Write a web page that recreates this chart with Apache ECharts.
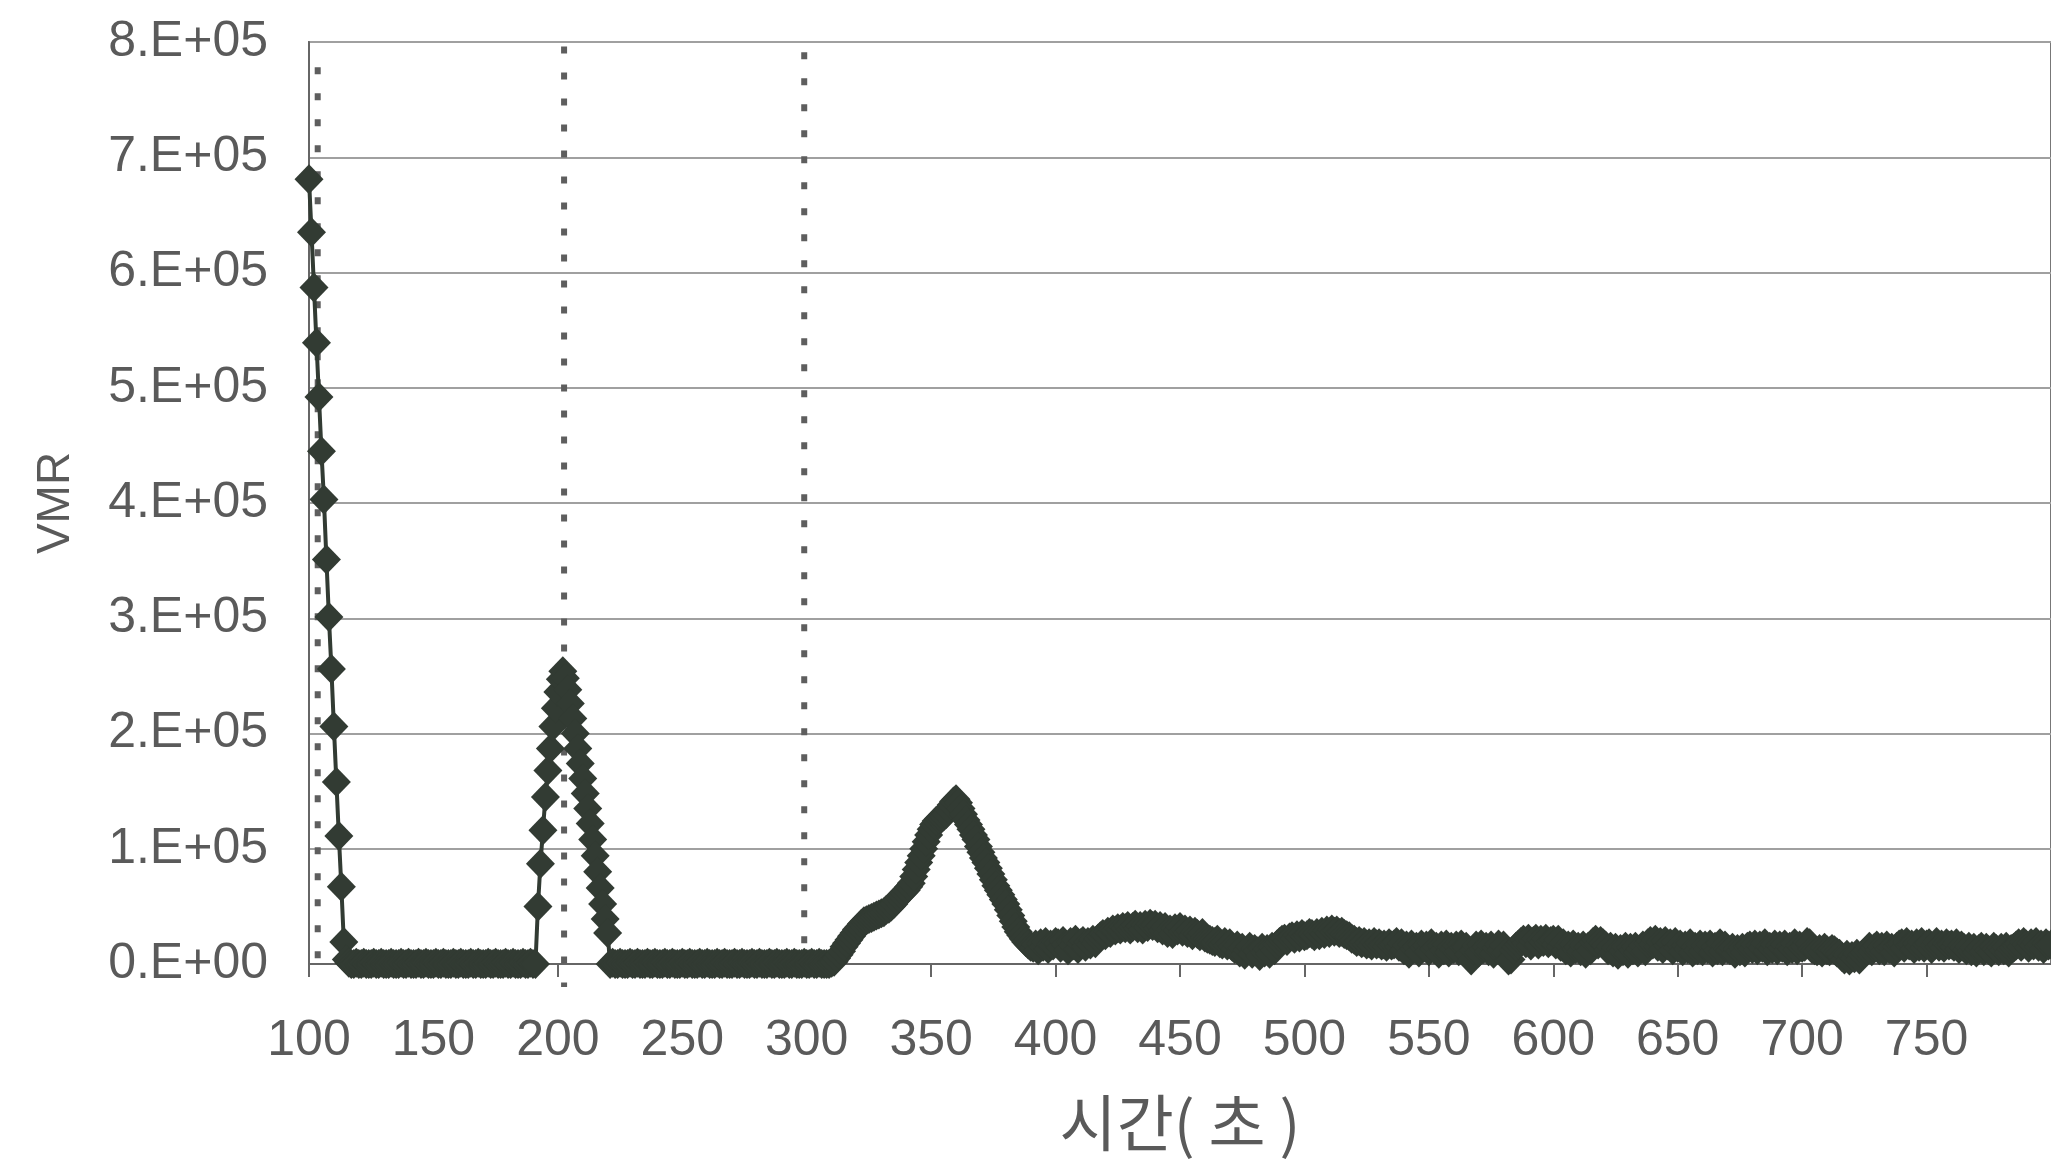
<!DOCTYPE html>
<html>
<head>
<meta charset="utf-8">
<script src="https://cdn.jsdelivr.net/npm/echarts@6.0.0/dist/echarts.min.js"></script>
<style>
html,body{margin:0;padding:0;background:#fff;}
#chart{width:2051px;height:1162px;}
</style>
</head>
<body>
<div id="chart"></div>
<script>
// VMR values in thousands, one sample per second; each segment starts at the given time (s)
const decay1Start = 100;
const decay1 = [681,635,587,539,492,445,403,351,301,256, 206,158,111,67,19];
const flat1Start = 115;
const flat1 = [
  4,1,0,0,1,0,0,1,0,0,
  0,1,0,0,1,0,0,0,1,0,
  0,0,1,0,0,1,0,0,0,1,
  0,0,1,0,0,0,1,0,0,1,
  0,0,0,1,0,0,1,0,0,0,
  1,0,0,1,0,0,0,1,0,0,
  1,0,0,0,1,0,0,1,0,0,
  0,1,0,0,1,0
];
const peak2Start = 191;
const peak2 = [
  0,50,87,116,145,168,187,206,222,236,
  247,254,248,238,226,213,200,187,174,161,
  148,135,122,108,94,80,66,52,39,27
];
const flat2Start = 221;
const flat2 = [
  0,1,0,0,1,0,0,0,1,0,
  0,1,0,0,0,1,0,0,1,0,
  0,0,1,0,0,1,0,0,0,1,
  0,0,1,0,0,0,1,0,0,1,
  0,0,0,1,0,0,1,0,0,0,
  1,0,0,1,0,0,0,1,0,0,
  1,0,0,0,1,0,0,1,0,0,
  0,1,0,0,1,0,0,0,1,0,
  0,1,0,0,1,0,0,0,0,1
];
const peak3Start = 311;
const peak3 = [
  2,5,8,11,15,18,21,24,27,30,
  32,35,37,38,39,40,41,42,43,44,
  45,47,48,50,52,55,58,60,62,64,
  67,70,76,82,88,94,100,106,112,117,
  121,124,126,127,128,130,134,138,141,143,
  140,135,130,125,121,117,112,108,102,97,
  92,88,83,78,73,68,64,60,56,52,
  47,42,37,32,28,25,22,19,17,15
];
const tailAStart = 391;
const tailA = [
  14,17,12,18,15,19,13,17,16,19,
  18,14,20,17,12,19,16,21,13,18,
  20,15,19,17,21,18,22,24,26,25,
  28,27,30,29,31,30,32,31,33,30,
  32,34,31,33,30,34,32,35,33,34,
  31,33,29,32,27,30,26,31,29,32,
  28,30,27,29,25,28,26,24,27,23,
  22,21,20,19,21,18,17,19,16,18,
  15,13,16,10,14,8,12,15,9,13,
  11,7,14,10,13,9,15,12,17,19,
  21,22,20,23,24,22,25,23,26,24
];
const tailBStart = 501;
const tailB = [
  25,27,26,24,27,25,28,26,29,27,
  30,28,29,27,28,26,25,24,22,21,
  19,20,18,19,17,18,16,19,17,18,
  16,17,15,18,16,17,19,15,18,12,
  16,9,17,13,15,10,17,14,16,11,
  18,13,15,9,16,12,17,10,15,13,
  16,11,17,14,15,8,3,12,16,10,
  17,13,15,11,16,9,14,17,12,16,
  10,3,4,12,15,17,19,21,18,22,
  16,20,22,17,21,19,22,18,20,21
];
const tailCStart = 601;
const tailC = [
  17,21,15,18,12,16,10,17,13,15,
  11,16,9,15,12,19,21,17,20,18,
  16,12,15,10,14,8,13,11,15,9,
  14,12,15,10,13,16,11,18,20,17,
  21,15,19,13,20,16,18,12,19,14,
  17,11,16,13,18,10,15,12,17,11,
  16,13,17,10,15,12,18,11,16,13,
  12,14,9,13,11,14,10,15,16,13,
  17,12,16,14,18,11,15,13,17,12,
  16,14,17,11,15,13,18,12,16,14
];
const tailDStart = 701;
const tailD = [
  15,19,18,13,12,11,13,10,14,12,
  11,13,12,10,9,6,4,8,3,7,
  5,9,4,8,10,12,15,11,14,16,
  12,15,11,16,13,14,10,15,17,18,
  14,19,16,17,13,18,15,19,14,17,
  18,13,16,19,15,17,14,18,16,17,
  15,18,13,16,14,12,15,11,14,10,
  13,15,11,14,12,10,15,13,11,14,
  12,15,10,13,14,16,18,15,19,17,
  14,18,16,19,15,17,13,18,16,17
];

// vertical dotted guide lines (time, top value, bottom value)
const guideTimes = [103.5, 202.5, 299];
const guideTops = [778000, 796000, 791000];
const guideBottoms = [0, -20000, 0];

const yTickLabels = ['0.E+00','1.E+05','2.E+05','3.E+05','4.E+05','5.E+05','6.E+05','7.E+05','8.E+05'];
const xTitle = '시간( 초 )';
const yTitle = 'VMR';

const segments = [
  [decay1Start, decay1], [flat1Start, flat1], [peak2Start, peak2], [flat2Start, flat2],
  [peak3Start, peak3], [tailAStart, tailA], [tailBStart, tailB], [tailCStart, tailC], [tailDStart, tailD]
];
const vmrData = [];
segments.forEach(([t0, arr]) => arr.forEach((v, i) => vmrData.push([t0 + i, v * 1000])));

const guideSeries = guideTimes.map((t, i) => ({
  type: 'line',
  data: [[t, guideTops[i]], [t, guideBottoms[i]]],
  symbol: 'none',
  clip: false,
  silent: true,
  z: 1,
  lineStyle: { color: '#5e5e5e', width: 6, type: [7, 19], cap: 'butt' }
}));

const textColor = '#5a5a5a';
const chart = echarts.init(document.getElementById('chart'), null, { renderer: 'canvas' });
chart.setOption({
  animation: false,
  backgroundColor: '#ffffff',
  grid: {
    left: 309, top: 42, right: -8, bottom: 198,
    show: true, borderColor: '#777', borderWidth: 2, backgroundColor: 'transparent'
  },
  xAxis: {
    type: 'value', min: 100, max: 800, interval: 50,
    name: xTitle, nameLocation: 'middle', nameGap: 128,
    nameTextStyle: { fontFamily: 'Noto Sans CJK KR', fontSize: 62, color: textColor },
    axisLine: { show: true, onZero: false, lineStyle: { color: '#666', width: 2 } },
    axisTick: { show: true, length: 13, lineStyle: { color: '#666', width: 2 } },
    axisLabel: { fontFamily: 'Liberation Sans', fontSize: 50, color: textColor, margin: 52, showMaxLabel: false },
    splitLine: { show: false }
  },
  yAxis: {
    type: 'value', min: 0, max: 800000, interval: 100000,
    name: yTitle, nameLocation: 'middle', nameGap: 230, nameRotate: 90,
    nameTextStyle: { fontFamily: 'Liberation Sans', fontSize: 46, color: textColor },
    axisLine: { show: true, lineStyle: { color: '#666', width: 2 } },
    axisTick: { show: false },
    axisLabel: {
      fontFamily: 'Liberation Sans', fontSize: 50, color: textColor, margin: 41,
      formatter: v => yTickLabels[Math.round(v / 100000)]
    },
    splitLine: { show: true, lineStyle: { color: '#a0a0a0', width: 2 } }
  },
  series: guideSeries.concat([{
    type: 'line',
    data: vmrData,
    symbol: 'diamond',
    symbolSize: [29, 30],
    showAllSymbol: true,
    z: 3,
    itemStyle: { color: '#323b33' },
    lineStyle: { color: '#323b33', width: 4 }
  }])
});
</script>
</body>
</html>
